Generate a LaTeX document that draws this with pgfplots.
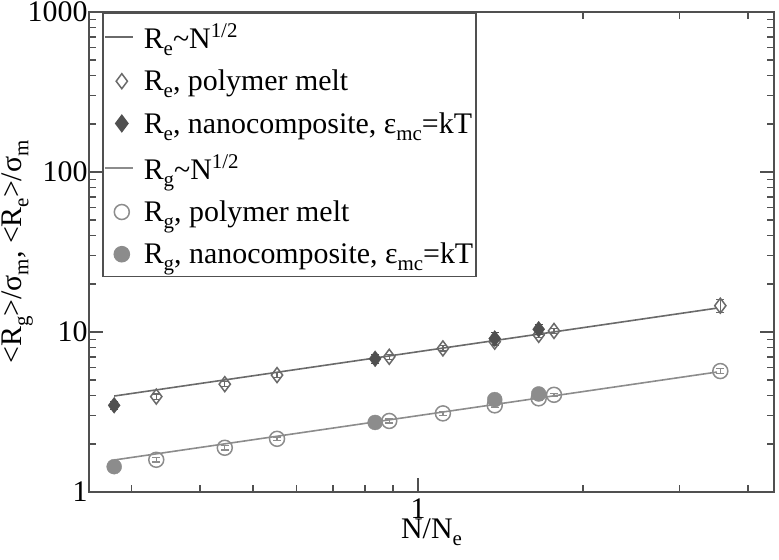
\documentclass[border=0pt]{standalone}
\usepackage{fontspec}
\setmainfont{Liberation Serif}
\usepackage{pgfplots}
\pgfplotsset{compat=1.18}

\definecolor{dk}{HTML}{505050}
\definecolor{md}{HTML}{6A6A6A}
\definecolor{lt}{HTML}{8C8C8C}

\newcommand\sub[1]{\raisebox{-7bp}{\fontsize{21}{21}\selectfont #1}}
\newcommand\super[1]{\raisebox{11bp}{\fontsize{21}{21}\selectfont #1}}

\pgfplotsset{
  lineleg/.style={legend image code/.code={\path[draw=none] (0bp,0bp) -- (38bp,0bp);\draw[##1] (2bp,0bp) -- (30bp,0bp);}},
  markleg/.style={legend image code/.code={\path[draw=none] (0bp,0bp) -- (38bp,0bp);\draw[##1] plot coordinates {(19bp,0bp)};}},
  ebar/.style={error bars/.cd, y dir=both, y explicit,
    error bar style={line width=1.2bp}, error mark options={rotate=90, mark size=4bp, line width=1.2bp}},
}

\begin{document}
\begin{tikzpicture}
\useasboundingbox (-89bp,-68bp) rectangle (690bp,492bp);
\begin{axis}[
  at={(0,0)}, anchor=south west,
  scale only axis, width=685bp, height=480bp,
  xmode=log, ymode=log,
  xmin=0.251, xmax=4.46, ymin=1, ymax=1000,
  xtick={1}, xticklabels={1},
  minor xtick={0.3,0.4,0.5,0.6,0.7,0.8,0.9,2,3,4},
  ytick={1,10,100,1000}, yticklabels={1,10,100,1000},
  minor ytick={2,3,4,5,6,7,8,9,20,30,40,50,60,70,80,90,200,300,400,500,600,700,800,900},
  tick align=inside,
  major tick length=14bp, minor tick length=7bp,
  every tick/.style={dk, line width=1.6bp},
  axis line style={dk, line width=1.6bp},
  tick label style={font=\fontsize{30}{34}\selectfont},
  yticklabel style={xshift=2bp},
  xticklabel style={yshift=-6bp, inner ysep=1bp},
  label style={font=\fontsize{30}{34}\selectfont},
  xlabel={N/N\sub{e}},
  ylabel={<R\sub{g}>/σ\sub{m}, <R\sub{e}>/σ\sub{m}},
  xlabel style={yshift=2bp, inner ysep=1bp},
  ylabel style={yshift=-12bp},
  legend cell align=left,
  legend style={at={(rel axis cs:0.019,1)}, anchor=north west, draw=dk, line width=1.6bp,
    font=\fontsize{30}{34}\selectfont, row sep=16bp, inner xsep=0bp, inner ysep=9bp,
    nodes={inner xsep=3bp}},
]
% R_e ~ N^{1/2}
\addplot[md, line width=1.6bp, lineleg] coordinates {(0.279,3.98) (3.51,14.1)};
\addlegendentry{R\sub{e}\textasciitilde N\super{1/2}}
% R_e polymer melt
\addplot[only marks, mark=diamond, mark size=7.5bp, md, mark options={line width=1.5bp}, markleg, ebar]
  coordinates {
  (0.333,3.95) +- (0,0.15)
  (0.444,4.72) +- (0,0.18)
  (0.553,5.38) +- (0,0.2)
  (0.886,7.00) +- (0,0.25)
  (1.11,7.90) +- (0,0.3)
  (1.38,8.70) +- (0,0.3)
  (1.66,9.60) +- (0,0.35)
  (1.77,10.15) +- (0,0.35)
  (3.56,14.6) +- (0,1.4)
};
\addlegendentry{R\sub{e}, polymer melt}
% R_e nanocomposite
\addplot[only marks, mark=diamond*, mark size=8bp, dk, mark options={fill=dk}, markleg, ebar]
  coordinates {
  (0.279,3.48) +- (0,0.2)
  (0.835,6.80) +- (0,0.45)
  (1.38,9.10) +- (0,0.8)
  (1.66,10.4) +- (0,0.7)
};
\addlegendentry{R\sub{e}, nanocomposite, ε\sub{mc}=kT}
% R_g ~ N^{1/2}
\addplot[lt, line width=1.6bp, lineleg] coordinates {(0.279,1.585) (3.51,5.62)};
\addlegendentry{R\sub{g}\textasciitilde N\super{1/2}}
% R_g polymer melt
\addplot[only marks, mark=o, mark size=7.5bp, lt, mark options={line width=1.5bp}, markleg, ebar]
  coordinates {
  (0.333,1.59) +- (0,0.05)
  (0.444,1.89) +- (0,0.06)
  (0.553,2.15) +- (0,0.06)
  (0.886,2.78) +- (0,0.08)
  (1.11,3.10) +- (0,0.09)
  (1.38,3.48) +- (0,0.1)
  (1.66,3.85) +- (0,0.1)
  (1.77,4.05) +- (0,0.1)
  (3.56,5.70) +- (0,0.2)
};
\addlegendentry{R\sub{g}, polymer melt}
% R_g nanocomposite
\addplot[only marks, mark=*, mark size=7.5bp, lt, mark options={fill=lt}, markleg]
  coordinates {
  (0.279,1.44)
  (0.835,2.72)
  (1.38,3.78)
  (1.66,4.10)
};
\addlegendentry{R\sub{g}, nanocomposite, ε\sub{mc}=kT}
\end{axis}
\end{tikzpicture}
\end{document}
